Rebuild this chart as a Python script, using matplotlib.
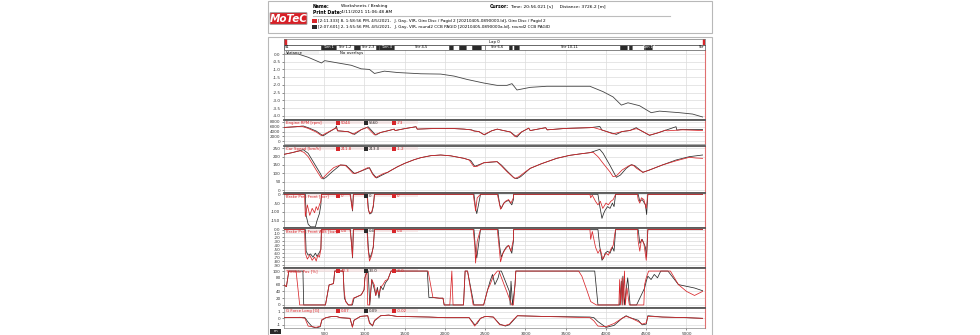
import matplotlib
matplotlib.use("Agg")
import matplotlib.pyplot as plt
from matplotlib.patches import Rectangle, FancyBboxPatch

W, H = 980, 335
RED = "#d8262a"
BLK = "#2a2a2a"
GRID = "#dcdcdc"

# ---------------- data (distance in m) ----------------
var_d = [0, 12, 177, 300, 465, 506, 671, 836, 959, 1062, 1124, 1247, 1412, 1700, 1947, 2112, 2277, 2482, 2647,
         2770, 2832, 2894, 3059, 3265, 3800, 3964, 4088, 4191, 4273, 4417, 4561, 4664, 4911, 5076, 5200]
var_v = [0, 0, 0, -0.21, -0.58, -0.43, -0.58, -0.73, -0.96, -1.0, -1.26, -1.11, -1.2, -1.28, -1.3, -1.43, -1.65,
         -1.88, -2.03, -2.03, -1.92, -2.33, -2.16, -2.09, -2.09, -2.44, -2.78, -3.31, -3.16, -3.35, -3.8, -3.7,
         -3.8, -3.89, -4.08]

rpm_d_red = [0, 150, 218, 300, 400, 465, 550, 640, 651, 665, 740, 800, 856, 960, 1030, 1045, 1124, 1200, 1288,
             1370, 1380, 1500, 1640, 1655, 1824, 2071, 2235, 2318, 2359, 2420, 2482, 2580, 2650, 2700, 2812, 2873,
             2950, 3040, 3059, 3250, 3270, 3500, 3800, 3841, 3964, 4088, 4200, 4294, 4376, 4417, 4541, 4650,
             4740, 4760, 4953, 5200]
rpm_v_red = [5700, 6000, 6200, 5300, 3800, 2300, 3800, 5400, 5600, 4300, 4100, 3900, 2900, 4800, 5700, 5300,
             2600, 3600, 4300, 5000, 4400, 5200, 6000, 5000, 5200, 5300, 5000, 4700, 4200, 4000, 2700, 4300, 5000,
             4600, 3800, 1800, 3800, 5400, 4400, 5600, 4700, 5300, 5600, 5700, 4500, 3000, 4000, 4400, 5200, 4700,
             2500, 3500, 4600, 4300, 4700, 4400]
rpm_d_blk = [0, 150, 239, 300, 400, 486, 560, 640, 651, 665, 740, 800, 877, 960, 1030, 1045, 1140, 1200, 1288,
             1370, 1380, 1500, 1640, 1655, 1824, 2071, 2235, 2330, 2370, 2420, 2490, 2580, 2650, 2700, 2812, 2894,
             2950, 3040, 3059, 3250, 3270, 3500, 3800, 3923, 3950, 4129, 4200, 4294, 4376, 4417, 4541, 4650,
             4870, 4880, 4953, 5200]
rpm_v_blk = [5700, 6000, 6300, 5600, 4200, 2200, 3800, 5400, 6300, 4300, 4100, 3900, 2800, 4800, 5700, 6000,
             2500, 3600, 4300, 5000, 4400, 5200, 6000, 5000, 5200, 5300, 5000, 4700, 4200, 4000, 2600, 4300, 5000,
             4600, 3800, 1700, 3800, 5400, 4400, 5600, 4700, 5300, 5600, 6100, 4600, 2800, 4000, 4400, 5600, 4700,
             2400, 3500, 6000, 4600, 4900, 4800]

spd_d_red = [0, 100, 200, 250, 300, 350, 400, 440, 465, 490, 550, 620, 700, 760, 800, 856, 900, 960, 1040, 1062,
             1100, 1136, 1180, 1240, 1288, 1330, 1412, 1500, 1618, 1700, 1824, 1947, 2071, 2235, 2300, 2359, 2400,
             2482, 2560, 2647, 2700, 2770, 2850, 2873, 2920, 3000, 3059, 3200, 3388, 3550, 3700, 3800, 3841, 3900,
             3964, 4047, 4088, 4130, 4200, 4294, 4335, 4380, 4458, 4540, 4700, 4870, 5035, 5117, 5200]
spd_v_red = [214, 224, 236, 225, 200, 160, 120, 90, 70, 75, 105, 135, 150, 148, 130, 100, 102, 115, 134, 130, 95,
             74, 85, 100, 106, 118, 140, 160, 182, 194, 206, 210, 205, 190, 180, 140, 142, 164, 168, 170, 145, 110,
             75, 70, 80, 110, 130, 158, 190, 208, 218, 224, 226, 200, 160, 110, 80, 85, 120, 148, 150, 130, 106,
             120, 150, 175, 196, 192, 190]
spd_d_blk = [0, 100, 200, 239, 300, 350, 400, 450, 486, 520, 600, 700, 770, 810, 877, 960, 1062, 1100, 1150,
             1200, 1288, 1330, 1412, 1500, 1618, 1700, 1824, 1947, 2071, 2235, 2318, 2370, 2482, 2647, 2700, 2780,
             2860, 2894, 2940, 3059, 3200, 3388, 3550, 3700, 3800, 3923, 3964, 4047, 4129, 4180, 4252, 4314, 4360,
             4458, 4540, 4700, 4870, 5035, 5200]
spd_v_blk = [214, 224, 236, 242, 220, 180, 140, 100, 66, 75, 110, 150, 148, 130, 98, 114, 134, 100, 72, 85, 106,
             118, 140, 160, 182, 194, 206, 210, 205, 190, 178, 142, 163, 170, 150, 110, 72, 68, 80, 130, 158, 190,
             208, 218, 224, 244, 220, 150, 76, 90, 130, 152, 145, 106, 120, 150, 180, 200, 210]

brk_d_red = [0, 255, 265, 290, 320, 350, 380, 400, 420, 440, 458, 465, 820, 840, 850, 862, 1030, 1045, 1062,
             1090, 1110, 1124, 2350, 2370, 2380, 2400, 2441, 2650, 2670, 2690, 2720, 2750, 2790, 2820, 2850, 2853,
             3800, 3810, 3830, 3870, 3900, 3930, 3960, 4000, 4030, 4060, 4090, 4110, 4120, 4390, 4400, 4420,
             4440, 4470, 4500, 4520, 5200]
brk_v_red = [0, 0, -127, -60, -120, -80, -105, -70, -90, -60, -40, 0, 0, -60, -90, 0, 0, -80, -108, -100, -60,
             0, 0, -60, -95, -20, 0, 0, -40, -85, -60, -40, -30, -50, -20, 0, 0, -20, -5, -40, -60, -40, -80, -50,
             -60, -40, -30, -10, 0, 0, -30, -50, -20, -30, -80, 0, 0]
brk_d_blk = [0, 265, 275, 300, 330, 360, 390, 410, 440, 458, 465, 825, 845, 852, 862, 1035, 1050, 1066, 1090,
             1110, 1124, 2360, 2380, 2395, 2441, 2660, 2680, 2700, 2730, 2760, 2790, 2830, 2850, 2853, 3900, 3920,
             3950, 3970, 3990, 4020, 4050, 4080, 4100, 4120, 4400, 4420, 4450, 4490, 4505, 4520, 5200]
brk_v_blk = [0, 0, -120, -170, -185, -185, -185, -150, -110, -60, 0, 0, -70, -95, 0, 0, -90, -112, -105, -70,
             0, 0, -80, -110, 0, 0, -60, -80, -50, -40, -35, -60, -30, 0, 0, -60, -137, -110, -90, -70, -80, -50,
             -70, 0, 0, -40, -30, -60, -115, 0, 0]

abs_d_red = [0, 255, 265, 290, 320, 350, 380, 400, 420, 440, 458, 465, 820, 840, 850, 862, 1030, 1045, 1062,
             1090, 1110, 1124, 2350, 2370, 2380, 2400, 2441, 2650, 2670, 2690, 2720, 2750, 2790, 2820, 2850, 2853,
             3800, 3810, 3830, 3870, 3900, 3930, 3960, 4000, 4030, 4060, 4090, 4110, 4120, 4390, 4400, 4420,
             4440, 4470, 4500, 4520, 5200]
abs_v_red = [0, 0, -60, -75, -65, -78, -70, -80, -65, -70, -50, 0, 0, -40, -70, 0, 0, -50, -80, -65, -40, 0, 0,
             -40, -85, -30, 0, 0, -40, -82, -60, -50, -40, -55, -25, 0, 0, -25, -5, -45, -60, -50, -75, -60, -65,
             -50, -40, -10, 0, 0, -30, -55, -25, -35, -78, 0, 0]
abs_d_blk = [0, 265, 275, 300, 330, 360, 390, 410, 440, 458, 465, 825, 845, 852, 862, 1035, 1050, 1066, 1090,
             1110, 1124, 2360, 2380, 2395, 2441, 2660, 2680, 2700, 2730, 2760, 2790, 2830, 2850, 2853, 3900, 3920,
             3950, 3970, 3990, 4020, 4050, 4080, 4100, 4120, 4400, 4420, 4450, 4490, 4505, 4520, 5200]
abs_v_blk = [0, 0, -55, -65, -62, -70, -60, -68, -58, -50, 0, 0, -50, -72, 0, 0, -55, -72, -60, -45, 0, 0, -55,
             -72, 0, 0, -45, -70, -55, -45, -40, -60, -30, 0, 0, -40, -78, -72, -60, -55, -60, -45, -55, 0, 0,
             -35, -25, -45, -70, 0, 0]

thr_d_red = [0, 30, 60, 75, 150, 195, 245, 400, 515, 560, 615, 630, 680, 735, 745, 765, 800, 840, 862, 960, 995,
             1005, 1030, 1040, 1062, 1090, 1124, 1140, 1160, 1180, 1200, 1230, 1260, 1290, 1330, 1360, 1380, 1760,
             1790, 1850, 1930, 1975, 1990, 2010, 2060, 2085, 2100, 2230, 2250, 2280, 2350, 2450, 2480, 2530, 2560,
             2600, 2650, 2670, 2830, 2850, 2870, 2880, 2930, 2970, 3660, 3700, 3760, 3810, 3880, 4160, 4170, 4180,
             4200, 4210, 4230, 4240, 4260, 4290, 4310, 4330, 4360, 4470, 4480, 4500, 4530, 4570, 4640, 4770, 4800,
             4900, 5000, 5100, 5200]
thr_v_red = [59, 54, 100, 100, 100, 0, 0, 0, 0, 59, 63, 100, 100, 100, 45, 10, 0, 0, 20, 30, 45, 80, 100, 0, 0,
             75, 58, 28, 45, 30, 52, 60, 72, 75, 100, 100, 100, 100, 100, 22, 20, 20, 0, 0, 0, 100, 0, 0, 100, 100,
             0, 0, 0, 45, 60, 85, 100, 100, 0, 0, 60, 100, 100, 100, 100, 85, 45, 10, 0, 0, 75, 0, 80, 0, 100, 0,
             50, 0, 0, 0, 0, 0, 60, 80, 100, 100, 100, 100, 100, 60, 40, 28, 40]
thr_d_blk = [0, 30, 60, 75, 180, 235, 245, 400, 515, 560, 615, 630, 680, 735, 750, 770, 800, 850, 870, 960, 995,
             1005, 1030, 1045, 1066, 1090, 1124, 1140, 1160, 1180, 1200, 1230, 1260, 1290, 1330, 1360, 1380, 1780,
             1800, 1850, 1930, 1975, 1990, 2010, 2100, 2230, 2250, 2280, 2360, 2450, 2480, 2530, 2560, 2590, 2620,
             2660, 2680, 2700, 2800, 2810, 2820, 2840, 2870, 2880, 2930, 2970, 3830, 3860, 3900, 3920, 4170, 4190,
             4200, 4210, 4230, 4250, 4270, 4300, 4320, 4350, 4380, 4480, 4500, 4520, 4560, 4600, 4640, 4680, 4720,
             4750, 4770, 4900, 5000, 5100, 5200]
thr_v_blk = [59, 54, 100, 100, 100, 100, 0, 0, 0, 59, 63, 100, 100, 100, 20, 10, 0, 0, 20, 30, 45, 80, 100, 100,
             0, 75, 45, 28, 52, 20, 55, 45, 65, 75, 100, 100, 100, 100, 22, 22, 20, 20, 0, 0, 0, 0, 100, 100, 0, 0,
             0, 45, 70, 90, 60, 80, 100, 100, 40, 0, 70, 0, 60, 100, 100, 100, 100, 100, 0, 0, 0, 70, 0, 85, 0, 45,
             80, 0, 0, 0, 0, 50, 70, 85, 75, 90, 80, 100, 100, 100, 100, 60, 55, 50, 42]

g_d = [0, 200, 260, 300, 350, 400, 450, 470, 520, 600, 650, 700, 820, 850, 870, 950, 1040, 1062, 1100, 1124, 1200,
       1300, 1400, 1800, 2000, 2300, 2370, 2400, 2441, 2500, 2600, 2680, 2750, 2800, 2850, 2900, 3200, 3800, 3850,
       3900, 4000, 4100, 4200, 4250, 4300, 4400, 4450, 4500, 4520, 4700, 5000, 5200]
g_red = [0.1, 0.15, 0.0, -1.2, -1.3, -1.4, -1.2, -0.2, 0.1, 0.3, 0.3, 0.1, 0.0, -1.4, -0.3, 0.3, 0.4, -0.8, -1.1,
         -0.3, 0.4, 0.5, 0.3, 0.2, 0.1, 0.1, -1.2, -0.6, 0.0, 0.3, 0.2, -1.0, -1.1, -0.9, -0.2, 0.4, 0.3, 0.1,
         -0.4, -1.2, -1.3, -0.8, 0.0, 0.3, 0.1, -0.5, -0.9, -0.7, 0.3, 0.2, 0.1, 0.0]
g_blk = [0.1, 0.15, 0.1, -0.6, -1.3, -1.5, -1.3, -0.3, 0.1, 0.3, 0.3, 0.1, 0.0, -1.3, -0.3, 0.3, 0.4, -0.6, -1.2,
         -0.4, 0.4, 0.5, 0.3, 0.2, 0.1, 0.1, -1.0, -0.8, 0.0, 0.3, 0.2, -0.9, -1.2, -1.0, -0.3, 0.4, 0.3, 0.2,
         0.1, -0.5, -1.4, -1.1, 0.0, 0.4, 0.1, -0.3, -1.0, -0.9, 0.4, 0.2, 0.1, 0.0]

x_ticks = [500, 1000, 1500, 2000, 2500, 3000, 3500, 4000, 4500, 5000]
x_tick_labels = ["500", "1000", "1500", "2000", "2500", "3000", "3500", "4000", "4500", "5000"]

sector_names = ["S1", "Turn 1", "Str 1-2", "", "Str 2-3", "", "Turn 4", "Str 4-5", "", "", "", "", "", "",
                "Str 6-6", "", "", "", "Str 10-11", "", "", "", "", "", "Turn 14", "Str"]
sector_ends = [465, 650, 870, 950, 1140, 1175, 1370, 2050, 2095, 2170, 2265, 2330, 2450, 2500, 2790, 2830, 2860,
               2925, 4170, 4255, 4280, 4325, 4470, 4480, 4570, 5230]
sector_dark = [False, True, False, True, False, True, True, False, True, False, True, False, True, False, False,
               True, False, True, False, True, False, True, False, True, True, False]

panel_names = ["Engine RPM [rpm]", "Car Speed [km/h]", "Brake Pres Front [bar]", "Brake Pres Front ABS [bar]",
               "Throttle Pos [%]", "G Force Long [G]"]
panel_vals_red = ["5044", "211.8", "0", "0.0", "40.3", "0.07"]
panel_vals_blk = ["5560", "213.0", "0", "0.0", "33.0", "0.09"]
panel_vals_diff = ["-73", "-1.2", "0", "0.0", "-8.0", "-0.02"]

XMAX = 5230

# ---------------- figure ----------------
fig = plt.figure(figsize=(W / 100, H / 100), dpi=100)
fig.patch.set_facecolor("white")


def px_axes(x0, y0, x1, y1):
    return fig.add_axes([x0 / W, 1 - y1 / H, (x1 - x0) / W, (y1 - y0) / H])


def ftext(x, y, s, **kw):
    return fig.text(x / W, 1 - y / H, s, **kw)


def frect(x0, y0, x1, y1, **kw):
    r = Rectangle((x0 / W, 1 - y1 / H), (x1 - x0) / W, (y1 - y0) / H, transform=fig.transFigure, **kw)
    fig.patches.append(r)
    return r


FS = 3.0

# header box
frect(268, 1, 712, 33, facecolor="none", edgecolor="#b8b8b8", lw=0.8, zorder=-5)
logo = FancyBboxPatch((271 / W, 1 - 24 / H), 35 / W, 11 / H, boxstyle="round,pad=0.001",
                      transform=fig.transFigure, facecolor="#d71f26", edgecolor="#999999", lw=0.6)
fig.patches.append(logo)
ftext(288.5, 18.5, "MoTeC", color="white", fontsize=7.5, fontweight="bold", fontstyle="italic",
      ha="center", va="center")
ftext(313, 6, "Name:", fontsize=3.3, fontweight="bold", va="center")
ftext(341, 6, "Worksheets / Braking", fontsize=3.2, va="center")
ftext(313, 12, "Print Date:", fontsize=3.3, fontweight="bold", va="center")
ftext(341, 12, "4/11/2021 11:06:48 AM", fontsize=3.2, va="center")
ftext(490, 6, "Cursor:", fontsize=3.3, fontweight="bold", va="center")
ftext(510, 6, "Time: 20:56.021 [s]     Distance: 3726.2 [m]", fontsize=3.2, va="center")
fig.add_artist(plt.Line2D([313 / W, 670 / W], [1 - 16 / H, 1 - 16 / H], color="#bdbdbd", lw=0.8))
frect(312, 19, 317, 23, facecolor=RED, edgecolor="none")
frect(312, 25, 317, 29, facecolor=BLK, edgecolor="none")
ftext(318, 21, "[2:11.333] 8, 1:58:56 PM, 4/5/2021,   J. Gay, VIR, Giro Disc / Pagid 2 "
               "[20210405-0890000.ld], Giro Disc / Pagid 2", fontsize=3.0, va="center")
ftext(318, 27, "[2:07.601] 2, 1:55:56 PM, 4/5/2021,   J. Gay, VIR, round2 CCB PAGID "
               "[20210405-0890000a.ld], round2 CCB PAGID", fontsize=3.0, va="center")

# chart box
frect(268, 37, 712, 336, facecolor="none", edgecolor="#b8b8b8", lw=0.8, zorder=-5)

PX0, PX1 = 284, 705

# lap bar
axl = px_axes(PX0, 39, PX1, 44.5)
axl.set_xlim(0, XMAX)
axl.set_ylim(0, 1)
axl.set_xticks([])
axl.set_yticks([])
for s in axl.spines.values():
    s.set_color("#777777")
    s.set_linewidth(0.5)
axl.text(XMAX / 2, 0.5, "Lap 0", fontsize=2.8, ha="center", va="center")
axl.axvspan(0, 25, color=RED)
axl.axvspan(XMAX - 25, XMAX, color=RED)

# sector bar
axs = px_axes(PX0, 45, PX1, 50)
axs.set_xlim(0, XMAX)
axs.set_ylim(0, 1)
axs.set_xticks([])
axs.set_yticks([])
for s in axs.spines.values():
    s.set_color("#555555")
    s.set_linewidth(0.5)
start = 0
for name, end, dark in zip(sector_names, sector_ends, sector_dark):
    axs.add_patch(Rectangle((start, 0), end - start, 1, facecolor=BLK if dark else "white",
                            edgecolor="#555555", lw=0.4))
    if name:
        axs.text((start + end) / 2 if name not in ("S1", "Str") else (start + 40 if name == "S1" else end - 40),
                 0.5, name, fontsize=2.6, ha="center", va="center", color="white" if dark else "black")
    start = end


def style_panel(ax, ylim, yticks, ylabels):
    ax.set_xlim(0, XMAX)
    ax.set_ylim(*ylim)
    ax.set_xticks(x_ticks)
    ax.set_xticklabels([])
    ax.tick_params(axis="x", length=0)
    ax.set_yticks(yticks)
    ax.set_yticklabels(ylabels, fontsize=FS)
    ax.tick_params(axis="y", length=1.5, width=0.4, pad=1, colors="#333333")
    ax.grid(True, color=GRID, lw=0.5)
    ax.set_axisbelow(True)
    for k, s in ax.spines.items():
        s.set_color("#888888")
        s.set_linewidth(0.5)
    ax.spines["top"].set_color("#555555")
    ax.spines["top"].set_linewidth(1.3)
    ax.spines["right"].set_color("#e07070")
    ax.spines["right"].set_linewidth(0.8)


# variance panel
axv = px_axes(PX0, 50, PX1, 119)
axv.plot(var_d, var_v, color="#444444", lw=0.6)
style_panel(axv, (-4.21, 0.26), [0, -0.5, -1, -1.5, -2, -2.5, -3, -3.5, -4],
            ["0.0", "-0.5", "-1.0", "-1.5", "-2.0", "-2.5", "-3.0", "-3.5", "-4.0"])
axv.spines["top"].set_linewidth(0.5)
axv.add_patch(Rectangle((0.003, 1 - 4.0 / 69), 0.08, 3.2 / 69, transform=axv.transAxes,
                        facecolor="#efefef", edgecolor="none", alpha=0.7, zorder=2))
ftext(286, 52.6, "Variance", fontsize=2.8, va="center")
ftext(340, 52.6, "No overlays", fontsize=2.8, va="center")

panels = [
    (120, 144, (-1200, 8800), [0, 2000, 4000, 6000, 8000], ["0", "2000", "4000", "6000", "8000"],
     (rpm_d_red, rpm_v_red, rpm_d_blk, rpm_v_blk)),
    (146, 192, (-12, 264), [0, 50, 100, 150, 200, 250], ["0", "50", "100", "150", "200", "250"],
     (spd_d_red, spd_v_red, spd_d_blk, spd_v_blk)),
    (193, 227, (-186, 7.4), [0, -50, -100, -150], ["0", "-50", "-100", "-150"],
     (brk_d_red, brk_v_red, brk_d_blk, brk_v_blk)),
    (228, 267, (-95, 3.8), [0, -10, -20, -30, -40, -50, -60, -70, -80, -90],
     ["0.0", "-10", "-20", "-30", "-40", "-50", "-60", "-70", "-80", "-90"],
     (abs_d_red, abs_v_red, abs_d_blk, abs_v_blk)),
    (268, 307, (-6, 109), [0, 20, 40, 60, 80, 100], ["0", "20", "40", "60", "80", "100"],
     (thr_d_red, thr_v_red, thr_d_blk, thr_v_blk)),
    (308, 328, (-1.5, 1.6), [-1, 0, 1], ["-1", "0", "1"],
     (g_d, g_red, g_d, g_blk)),
]

last_ax = None
for i, (y0, y1, ylim, yt, yl, (dr, vr, db, vb)) in enumerate(panels):
    ax = px_axes(PX0, y0, PX1, y1)
    ax.plot(db, vb, color=BLK, lw=0.55, zorder=3)
    ax.plot(dr, vr, color=RED, lw=0.55, zorder=4)
    style_panel(ax, ylim, yt, yl)
    # legend strip (translucent, under traces)
    ax.add_patch(Rectangle((0.003, 1 - 4.2 / (y1 - y0)), 0.315, 3.4 / (y1 - y0), transform=ax.transAxes,
                           facecolor="#f3dada", edgecolor="none", alpha=0.55, zorder=2))
    ty = y0 + 2.9
    ftext(286, ty, panel_names[i], fontsize=2.8, color=RED, va="center", zorder=6)
    frect(336, ty - 1.7, 339.5, ty + 1.7, facecolor=RED, edgecolor="none", zorder=6)
    ftext(340.5, ty, panel_vals_red[i], fontsize=2.8, color=RED, va="center", zorder=6)
    frect(364, ty - 1.7, 367.5, ty + 1.7, facecolor=BLK, edgecolor="none", zorder=6)
    ftext(368.5, ty, panel_vals_blk[i], fontsize=2.8, color=BLK, va="center", zorder=6)
    frect(392, ty - 1.7, 395.5, ty + 1.7, facecolor=RED, edgecolor="none", zorder=6)
    ftext(396.5, ty, panel_vals_diff[i], fontsize=2.8, color=RED, va="center", zorder=6)
    last_ax = ax

last_ax.set_xticklabels(x_tick_labels, fontsize=FS)
last_ax.tick_params(axis="x", length=1.5, width=0.4, pad=1.5, colors="#333333")
frect(270, 329, 281, 334, facecolor=BLK, edgecolor="none")
ftext(275.5, 331.5, "m", fontsize=2.6, color="white", ha="center", va="center")

fig.savefig("out.png", dpi=100, facecolor="white")
